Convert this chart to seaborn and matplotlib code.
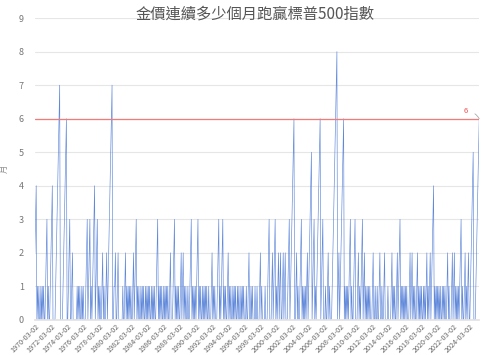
import matplotlib
matplotlib.use("Agg")
import matplotlib.pyplot as plt
import seaborn as sns
import pandas as pd
import numpy as np

title = "金價連續多少個月跑贏標普500指數"
y_label = "月"
threshold = 6

# streak counts (months gold beat S&P 500 consecutively), monthly from 1970-02
s1970s = [2,3,4,0,
          1,0,1,0,0,1,0,1,0,1,0,0,
          1,2,3,
          0,1,0,0,
          1,2,3,4,
          0,0,0,
          0,1,2,3,4,5,6,7,
          0,0,0,0,
          1,2,3,4,5,6,
          0,0,
          1,2,3,
          0,0,
          1,2,
          0,0,0,0,0,0,
          1,0,1,0,1,0,0,1,0,1,
          0,0,0,
          1,2,3,
          0,
          1,2,3,
          0,1,0,
          1,2,3,4,
          0,
          1,2,3,
          0,1,0,1,0,0,
          1,2,
          0,1,0,0,
          1,2,
          0,
          1,2,3,4,5,6,7,
          0,0,1]
s1980s = [1,2,
          0,0,1,2,
          0,0,0,0,0,0,1,
          0,0,1,2,
          0,1,0,1,0,1,0,1,0,
          0,1,2,0,1,2,3,
          0,1,0,1,0,0,1,0,1,0,1,0,0,1,0,1,0,1,0,1,0,0,1,0,1,0,1,0,0,
          1,2,3,
          0,1,0,1,0,1,0,0,1,0,1,0,1,0,1,0,0,
          1,2,
          0,0,0,
          1,2,3,
          0,1,0,1,0,1,0,0,
          1,2,
          0,
          1,2,
          0,1,0,1,0,0,1,0,0,
          1,2,3,
          0,1,0,1,0]
s1990s = [1,0,
          1,2,3,
          0,1,0,1,0,0,1,0,1,0,1,0,1,0,0,1,0,0,
          0,1,2,
          0,1,0,1,0,0,0,
          1,2,3,
          0,1,0,
          1,2,3,
          0,1,0,1,0,0,
          1,2,
          0,1,0,1,0,0,1,0,1,0,1,0,0,1,0,1,0,0,1,0,1,0,1,0,0,0,1,0,0,
          1,2,
          0,0,1,0,1,0,0,0,1,0,0,1,0,0,0,
          1,2,
          0,1,0,0,0,0,1,0,0,0,
          1,2,3,
          0,0,0,1,2,0,
          1,2,3]
s2000s = [0,1,0,1,2,0,1,2,0,0,1,2,0,1,2,0,0,0,
          1,2,3,
          0,1,2,3,4,5,6,
          0,0,
          1,2,
          0,1,0,0,
          1,2,3,
          0,1,0,1,0,1,0,
          1,2,
          0,
          1,2,3,4,5,
          0,1,2,3,
          0,1,0,
          1,2,3,4,5,6,
          0,1,2,3,
          0,0,0,1,
          0,0,1,2,
          0,1,0,0,0,
          1,2,3,4,5,6,7,8,
          0,1,2,
          0,
          1,2,3,4,5,6,
          0,1,0,
          1,0,1,0,
          1,2,3,
          0,1,0,0,
          1,2,3,
          0]
s2010s = [0,0,1,2,
          0,1,0,
          1,2,3,
          0,1,2,
          0,1,0,1,0,1,0,1,0,0,0,
          1,2,
          0,0,1,0,0,1,0,0,
          1,2,
          0,0,1,0,0,
          1,2,
          0,0,0,0,1,0,0,0,0,
          1,2,
          0,1,0,1,0,0,
          1,2,
          0,
          1,2,3,
          0,1,0,1,0,1,0,1,0,1,0,0,0,
          1,2,
          0,
          1,2,
          0,1,0,1,0,0,
          1,2,
          0,1,0,1,0,1,0,0,1,0,1,0,
          1,2,
          0,1,0,
          1,2,
          0,
          1,2,3,4,
          0,1,0,1]
s2020s = [0,1,0,1,0,1,0,0,1,0,1,0,1,0,0,
          1,2,
          0,1,0,0,0,
          1,2,
          0,
          1,2,
          0,1,0,1,0,1,0,
          1,2,3,
          0,1,0,0,
          1,2,
          0,1,0,
          1,2,
          0,0,
          1,2,3,4,5,
          0,0,0,
          1,2,3,4,5,6]

values = s1970s + s1980s + s1990s + s2000s + s2010s + s2020s
dates = pd.date_range("1970-02-02", periods=len(values), freq="MS") + pd.Timedelta(days=1)
date_labels = [d.strftime("%Y-%m-%d") for d in dates]
df = pd.DataFrame({"idx": np.arange(len(values)), "months": values, "date": date_labels})

sns.set_theme(style="white")
plt.rcParams["font.family"] = ["Noto Sans CJK TC", "DejaVu Sans"]

fig = plt.figure(figsize=(4.91, 3.55), dpi=100)
ax = fig.add_axes([0.071, 0.099, 0.905, 0.850])

sns.lineplot(data=df, x="idx", y="months", ax=ax, color="#4F7BD6", linewidth=0.45, alpha=0.9)
ax.axhline(threshold, color="#F47A7A", linewidth=0.9, zorder=3)

ax.set_xlim(0, len(values) - 1)
ax.set_ylim(0, 9)
ax.set_yticks(range(0, 10))
ax.yaxis.grid(True, color="#E6E6E6", linewidth=0.8)
ax.set_axisbelow(True)
for sp in ax.spines.values():
    sp.set_visible(False)
ax.spines["bottom"].set_visible(True)
ax.spines["bottom"].set_color("#E3E3E3")

tick_pos = list(range(0, len(values), 24))
ax.set_xticks(tick_pos)
ax.set_xticklabels([date_labels[i] for i in tick_pos], rotation=45, ha="right",
                   rotation_mode="anchor", fontsize=5.2, color="#666666")
ax.tick_params(axis="y", labelsize=6.5, labelcolor="#777777", length=0, pad=8)
ax.tick_params(axis="x", length=0, pad=2)
ax.set_xlabel("")
ax.set_ylabel(y_label, fontsize=6, color="#888888")
ax.yaxis.set_label_coords(-0.058, 0.5)

ax.annotate(str(threshold), xy=(len(values) - 1, threshold), xytext=(len(values) - 21, threshold + 0.22),
            fontsize=5.5, color="#F05050", ha="center", va="center",
            arrowprops=dict(arrowstyle="-", color="#AAAAAA", linewidth=0.6,
                            connectionstyle="arc3,rad=-0.3", shrinkA=3, shrinkB=0))

fig.suptitle(title, x=0.52, y=0.985, fontsize=11, color="#555555")

fig.savefig("out.png", dpi=100)
